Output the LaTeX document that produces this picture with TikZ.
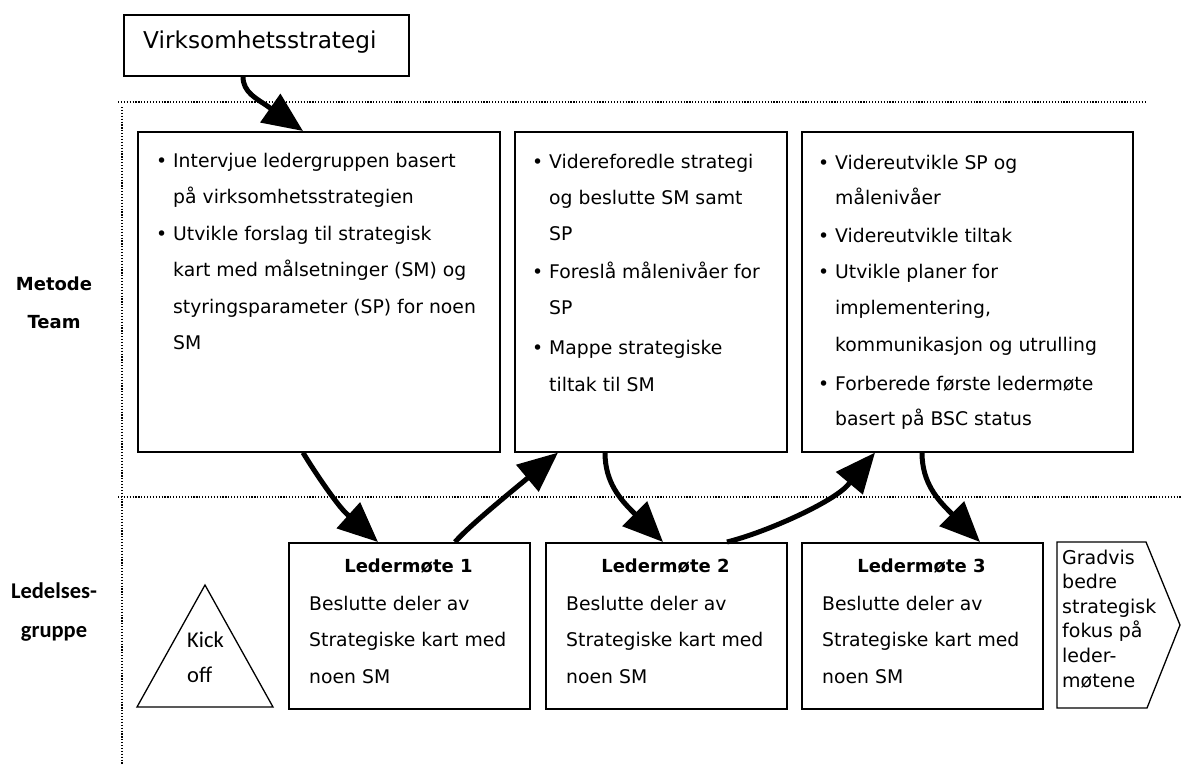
\documentclass[tikz,border=0pt]{standalone}
\usepackage{fontspec}
\setmainfont{DejaVu Sans}
\newfontfamily\calfont{Carlito}
\usetikzlibrary{arrows.meta,calc}
\newcommand\itembul{\llap{\textbullet\hspace{6pt}}}

% Multi-line nodes are anchored at the baseline of their last line.
\begin{document}
\begin{tikzpicture}[x=1pt,y=-1pt,
  boxline/.style={draw, line width=1.6pt, inner sep=0pt, anchor=north west},
  sepline/.style={line width=1.2pt, dash pattern=on 1.2pt off 1.7pt},
  item/.style={anchor=base west, align=left, inner sep=0pt,
               font=\fontsize{18.8}{36.5}\selectfont},
  meet/.style={anchor=base west, align=left, inner sep=0pt,
               font=\fontsize{18.8}{36.6}\selectfont},
  meettitle/.style={anchor=base, inner sep=0pt, font=\bfseries\fontsize{18}{22}\selectfont},
  lane/.style={anchor=base, align=center, inner sep=0pt},
  flow/.style={line width=5pt, -{Triangle[length=40pt,width=34pt]}}
]
\fill[white] (0,0) rectangle (1181,764);
\useasboundingbox (0,0) rectangle (1181,764);

% swim-lane separators
\draw[sepline] (118,102) -- (1145,102);
\draw[sepline] (118,497) -- (1181,497);
\draw[sepline] (122,107) -- (122,764);

% lane labels
\node[lane, font=\bfseries\fontsize{18}{38}\selectfont] (lmet) at (54,328) {Metode\\Team};
\node[lane, font=\calfont\bfseries\fontsize{22.5}{39}\selectfont] (lled) at (54,637) {Ledelses-\\gruppe};

% strategy box
\node[boxline, minimum width=285, minimum height=61] (vs) at (123,14) {};
\node[anchor=base west, inner sep=0pt, font=\fontsize{23.2}{28}\selectfont] (vst) at (143,48) {Virksomhetsstrategi};

% method team boxes
\node[boxline, minimum width=362, minimum height=320] (A) at (137,131) {};
\node[boxline, minimum width=272, minimum height=320] (B) at (514,131) {};
\node[boxline, minimum width=331, minimum height=320] (C) at (801,131) {};

\node[item] (a1) at (173,203.5) {\itembul Intervjue ledergruppen basert\\på virksomhetsstrategien};
\node[item] (a2) at (173,349.5) {\itembul Utvikle forslag til strategisk\\kart med målsetninger (SM) og\\styringsparameter (SP) for noen\\SM};

\node[item, font=\fontsize{18.8}{36}\selectfont] (b1) at (549,240) {\itembul Videreforedle strategi\\og beslutte SM samt\\SP};
\node[item, font=\fontsize{18.8}{36.5}\selectfont] (b2) at (549,314.5) {\itembul Foreslå målenivåer for\\SP};
\node[item, font=\fontsize{18.8}{37}\selectfont] (b3) at (549,391) {\itembul Mappe strategiske\\tiltak til SM};

\node[item, font=\fontsize{18.8}{35}\selectfont] (c1) at (835,204) {\itembul Videreutvikle SP og\\målenivåer};
\node[item] (c2) at (835,242) {\itembul Videreutvikle tiltak};
\node[item, font=\fontsize{18.8}{36.5}\selectfont] (c3) at (835,351) {\itembul Utvikle planer for\\implementering,\\kommunikasjon og utrulling};
\node[item, font=\fontsize{18.8}{35}\selectfont] (c4) at (835,425) {\itembul Forberede første ledermøte\\basert på BSC status};

% management group
\draw[line width=1.3pt, line join=miter] (137,707) -- (205,585) -- (273,707) -- cycle;
\node[anchor=base west, align=left, inner sep=0pt, font=\calfont\fontsize{22.5}{35}\selectfont] (ko) at (187,682) {Kick\\off};

\node[boxline, minimum width=241, minimum height=166] (L1) at (288,542) {};
\node[boxline, minimum width=241, minimum height=166] (L2) at (545,542) {};
\node[boxline, minimum width=241, minimum height=166] (L3) at (801,542) {};

\node[meettitle] (l1t) at (408.5,572) {Ledermøte 1};
\node[meettitle] (l2t) at (665.5,572) {Ledermøte 2};
\node[meettitle] (l3t) at (921.5,572) {Ledermøte 3};
\node[meet] (l1b) at (309,683.2) {Beslutte deler av\\Strategiske kart med\\noen SM};
\node[meet] (l2b) at (566,683.2) {Beslutte deler av\\Strategiske kart med\\noen SM};
\node[meet] (l3b) at (822,683.2) {Beslutte deler av\\Strategiske kart med\\noen SM};

% outlook pentagon
\draw[line width=1.3pt, line join=miter] (1057,542) -- (1146,542) -- (1180,625) -- (1147,708) -- (1057,708) -- cycle;
\node[anchor=base west, align=left, inner sep=0pt, font=\fontsize{19}{24.6}\selectfont] (gr) at (1062,687)
  {Gradvis\\bedre\\strategisk\\fokus på\\leder-\\møtene};

% attachment points of the flow arrows
\coordinate (s1) at ([xshift=120pt]vs.south west);
\coordinate (t1) at ([xshift=166pt]A.north west);
\coordinate (s2) at ([xshift=166pt]A.south west);
\coordinate (t2) at ([xshift=90pt]L1.north west);
\coordinate (s3) at ([xshift=167pt]L1.north west);
\coordinate (t3) at ([xshift=44pt]B.south west);
\coordinate (s4) at ([xshift=91pt]B.south west);
\coordinate (t4) at ([xshift=118pt]L2.north west);
\coordinate (s5) at ([xshift=182pt]L2.north west);
\coordinate (t5) at ([xshift=74pt]C.south west);
\coordinate (s6) at ([xshift=121pt]C.south west);
\coordinate (t6) at ([xshift=179pt]L3.north west);

% flow between the two groups: a curve, then a straight run under the tip
\draw[flow] (s1) .. controls +(0,16) and +(-12,-8.4) .. ($(t1)+(-34.4,-24.1)$) -- (t1);
\draw[flow] (s2) .. controls +(12,20) and +(-9,-8) .. ($(t2)+(-31.2,-28.1)$) -- (t2);
\draw[flow] (s3) .. controls +(15,-17) and +(-11.5,9.6) .. ($(t3)+(-32.2,27)$) -- (t3);
\draw[flow] (s4) .. controls +(0,30) and +(-12.7,-12.7) .. ($(t4)+(-29.7,-29.7)$) -- (t4);
\draw[flow] (s5) .. controls +(40,-10) and +(-14.1,16.8) .. ($(t5)+(-27,32.2)$) -- (t5);
\draw[flow] (s6) .. controls +(0,30) and +(-12.7,-12.7) .. ($(t6)+(-29.7,-29.7)$) -- (t6);
\end{tikzpicture}
\end{document}
